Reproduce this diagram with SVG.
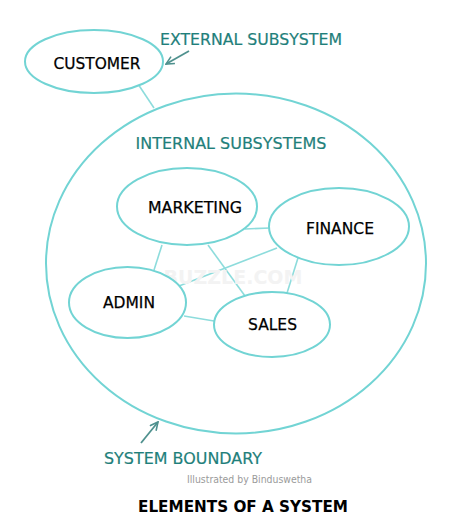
<svg xmlns="http://www.w3.org/2000/svg" width="458" height="530" viewBox="0 0 458 530">
<defs>
<style>
.node{fill:#fff;stroke:#72d4d4;stroke-width:2}
.boundary{fill:none;stroke:#72d4d4;stroke-width:2}
.conn line{stroke:#8ddcdc;stroke-width:1.6}
.lbl{font-family:"DejaVu Sans",Verdana,sans-serif;font-size:16px;fill:#000;stroke:#000;stroke-width:0.25}
.teal{font-family:"DejaVu Sans",Verdana,sans-serif;font-size:15.5px;fill:#1f7f7b;stroke:#1f7f7b;stroke-width:0.2}
.ptr{stroke:#4f918e;stroke-width:1.8;fill:none}
</style>
<marker id="open" viewBox="0 0 10 10" refX="9" refY="5" markerWidth="10" markerHeight="10" markerUnits="userSpaceOnUse" orient="auto">
<path d="M1,1 L9,5 L1,9" fill="none" stroke="#4f918e" stroke-width="1.6"/>
</marker>
</defs>
<rect width="458" height="530" fill="#fff"/>
<g id="connectors" class="conn">
<line x1="138" y1="84" x2="154" y2="108"/>
<line x1="245" y1="229" x2="270" y2="228"/>
<line x1="162" y1="245" x2="154" y2="270"/>
<line x1="208" y1="245" x2="245" y2="296"/>
<line x1="277" y1="248" x2="179" y2="286"/>
<line x1="298" y1="258" x2="287" y2="293"/>
<line x1="184" y1="316" x2="214" y2="321"/>
</g>
<g id="system-boundary">
<ellipse class="boundary" cx="236" cy="263.5" rx="190" ry="170"/>
</g>
<text x="233" y="284" text-anchor="middle" font-family="DejaVu Sans,sans-serif" font-weight="bold" font-size="19" fill="#f3f3f3">BUZZLE.COM</text>
<g id="customer">
<ellipse class="node" cx="94" cy="61.5" rx="69" ry="31.5"/>
<text class="lbl" x="97" y="69" text-anchor="middle" textLength="87" lengthAdjust="spacingAndGlyphs">CUSTOMER</text>
</g>
<g id="marketing">
<ellipse class="node" cx="187" cy="206.5" rx="70" ry="38.5"/>
<text class="lbl" x="195" y="213" text-anchor="middle" textLength="94" lengthAdjust="spacingAndGlyphs">MARKETING</text>
</g>
<g id="finance">
<ellipse class="node" cx="339" cy="226.5" rx="70" ry="38.5"/>
<text class="lbl" x="340" y="234" text-anchor="middle" textLength="68" lengthAdjust="spacingAndGlyphs">FINANCE</text>
</g>
<g id="admin">
<ellipse class="node" cx="127.5" cy="302.5" rx="58.5" ry="35.5"/>
<text class="lbl" x="129" y="308" text-anchor="middle" textLength="52" lengthAdjust="spacingAndGlyphs">ADMIN</text>
</g>
<g id="sales">
<ellipse class="node" cx="272" cy="324.5" rx="58" ry="32.5"/>
<text class="lbl" x="272.5" y="330" text-anchor="middle" textLength="49" lengthAdjust="spacingAndGlyphs">SALES</text>
</g>
<g id="pointers">
<line class="ptr" x1="189" y1="51" x2="166" y2="64" marker-end="url(#open)"/>
<line class="ptr" x1="141" y1="443" x2="158" y2="422" marker-end="url(#open)"/>
</g>
<text class="teal" x="160" y="44.5" textLength="182" lengthAdjust="spacingAndGlyphs">EXTERNAL SUBSYSTEM</text>
<text class="teal" x="135.5" y="148.5" textLength="191" lengthAdjust="spacingAndGlyphs">INTERNAL SUBSYSTEMS</text>
<text class="teal" x="104" y="463.5" textLength="158" lengthAdjust="spacingAndGlyphs">SYSTEM BOUNDARY</text>
<text x="187" y="483" font-family="DejaVu Sans,Verdana,sans-serif" font-size="10" fill="#9a9a9a" textLength="125" lengthAdjust="spacingAndGlyphs">Illustrated by Binduswetha</text>
<text x="138" y="512" font-family="DejaVu Sans,Verdana,sans-serif" font-weight="bold" font-size="15" fill="#000" textLength="210" lengthAdjust="spacingAndGlyphs">ELEMENTS OF A SYSTEM</text>
</svg>
